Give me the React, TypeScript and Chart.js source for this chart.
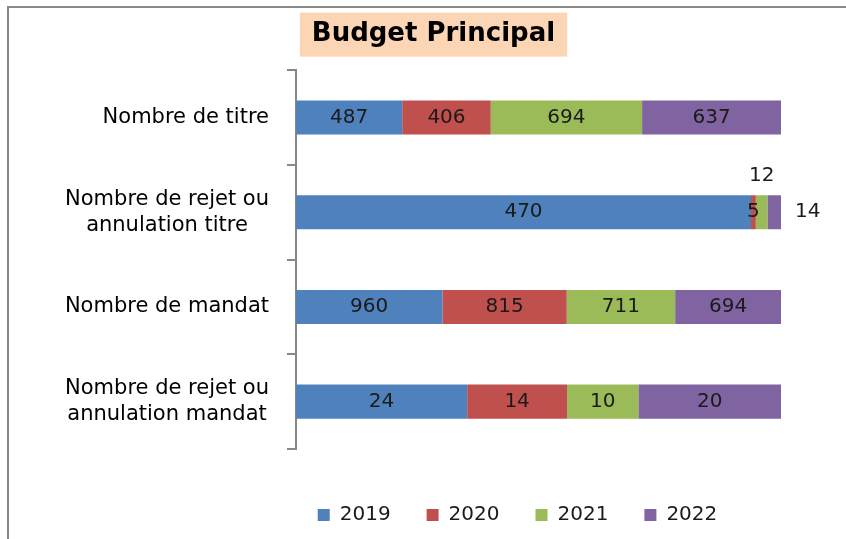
import React, { useEffect, useRef } from "react";
import { Chart, registerables } from "chart.js";

Chart.register(...registerables);

const TITLE = "Budget Principal";
const categories: string[][] = [
  ["Nombre de titre"],
  ["Nombre de rejet ou", "annulation titre"],
  ["Nombre de mandat"],
  ["Nombre de rejet ou", "annulation mandat"],
];
const years = ["2019", "2020", "2021", "2022"];
const values2019 = [487, 470, 960, 24];
const values2020 = [406, 5, 815, 14];
const values2021 = [694, 12, 711, 10];
const values2022 = [637, 14, 694, 20];
const seriesValues = [values2019, values2020, values2021, values2022];
const colors = ["#4F81BD", "#C0504D", "#9BBB59", "#8064A2"];
// label placement per [series][category]: c = centre, above, right
const labelPlacement = [
  ["c", "c", "c", "c"],
  ["c", "c", "c", "c"],
  ["c", "above", "c", "c"],
  ["c", "right", "c", "c"],
];

const FONT = "'DejaVu Sans', sans-serif";
const TITLE_SIZE = 26;
const TITLE_PAD_TOP = 19;
const LABEL_SIZE = 20;
const CAT_SIZE = 21;
const LEGEND_OFFSET = -21;

const totals = categories.map((_, i) =>
  seriesValues.reduce((s, arr) => s + arr[i], 0)
);

const customPlugin = {
  id: "customDraw",
  afterLayout(chart: any) {
    const lg = chart.legend;
    const ca = chart.chartArea;
    if (!lg || !ca) return;
    const desired = (ca.left + ca.right) / 2 + LEGEND_OFFSET;
    const shift = desired - (lg.left + lg.right) / 2;
    lg.left += shift;
    lg.right += shift;
  },
  beforeDraw(chart: any) {
    const tb = chart.titleBlock;
    if (!tb) return;
    const ctx = chart.ctx;
    ctx.save();
    ctx.font = `bold ${TITLE_SIZE}px ${FONT}`;
    const w = ctx.measureText(TITLE).width;
    const cx = (tb.left + tb.right) / 2;
    const cy = tb.top + TITLE_PAD_TOP + (TITLE_SIZE * 1.2) / 2;
    ctx.fillStyle = "#FCD5B5";
    ctx.fillRect(cx - w / 2 - 12, cy - 22, w + 24, 44);
    ctx.restore();
  },
  afterDatasetsDraw(chart: any) {
    const ctx = chart.ctx;
    ctx.save();
    ctx.font = `${LABEL_SIZE}px ${FONT}`;
    ctx.fillStyle = "#1a1a1a";
    ctx.textBaseline = "middle";
    seriesValues.forEach((vals, d) => {
      const meta = chart.getDatasetMeta(d);
      meta.data.forEach((el: any, i: number) => {
        const { x, y, base, height } = el.getProps(["x", "y", "base", "height"], true);
        const pos = labelPlacement[d][i];
        const text = String(vals[i]);
        if (pos === "above") {
          ctx.textAlign = "center";
          ctx.fillText(text, (x + base) / 2, y - height / 2 - 19);
        } else if (pos === "right") {
          ctx.textAlign = "left";
          ctx.fillText(text, x + 14, y);
        } else {
          ctx.textAlign = "center";
          ctx.fillText(text, (x + base) / 2, y);
        }
      });
    });
    ctx.restore();
  },
  afterDraw(chart: any) {
    const ctx = chart.ctx;
    const ys = chart.scales.y;
    const right = chart.chartArea.left - 27;
    ctx.save();
    ctx.font = `${CAT_SIZE}px ${FONT}`;
    ctx.fillStyle = "#000";
    ctx.textBaseline = "middle";
    ctx.textAlign = "center";
    categories.forEach((lines, i) => {
      const yc = ys.getPixelForValue(i);
      const maxW = Math.max(...lines.map((l) => ctx.measureText(l).width));
      const cx = right - maxW / 2;
      const lh = 26;
      const y0 = yc - ((lines.length - 1) * lh) / 2;
      lines.forEach((l, k) => ctx.fillText(l, cx, y0 + k * lh));
    });
    ctx.restore();
  },
};

export default function App() {
  const ref = useRef<HTMLCanvasElement | null>(null);
  useEffect(() => {
    if (!ref.current) return;
    const chart = new Chart(ref.current, {
      type: "bar",
      data: {
        labels: categories,
        datasets: years.map((yr, d) => ({
          label: yr,
          data: seriesValues[d].map((v, i) => (v / totals[i]) * 100),
          backgroundColor: colors[d],
          borderWidth: 0,
          barPercentage: 0.36,
          categoryPercentage: 1,
        })),
      },
      options: {
        indexAxis: "y",
        animation: false,
        responsive: false,
        events: [],
        layout: { padding: { left: 86, right: 65, top: 0, bottom: 4 } },
        plugins: {
          title: {
            display: true,
            text: TITLE,
            color: "#000",
            font: { family: FONT, size: TITLE_SIZE, weight: "bold" },
            padding: { top: TITLE_PAD_TOP, bottom: 20 },
          },
          legend: {
            position: "bottom",
            labels: {
              boxWidth: 12,
              boxHeight: 12,
              padding: 36,
              color: "#1a1a1a",
              font: { family: FONT, size: LABEL_SIZE },
            },
          },
          tooltip: { enabled: false },
        },
        scales: {
          x: {
            stacked: true,
            min: 0,
            max: 100,
            display: true,
            grid: { display: false },
            border: { display: false },
            ticks: { display: false },
            afterFit(s: any) {
              s.height = 20;
            },
          },
          y: {
            stacked: true,
            grid: {
              display: true,
              drawOnChartArea: false,
              drawTicks: true,
              tickLength: 9,
              color: "#888",
              lineWidth: 2,
              offset: true,
            },
            border: { display: true, color: "#888", width: 2 },
            ticks: { display: false },
            afterFit(s: any) {
              s.width = 210;
            },
          },
        },
      } as any,
      plugins: [customPlugin as any],
    });
    return () => chart.destroy();
  }, []);

  return (
    <>
      <div style={{ position: "absolute", left: 0, top: 0, width: 846, height: 539 }}>
        <canvas ref={ref} width={846} height={539} style={{ width: 846, height: 539, display: "block" }} />
      </div>
      <div
        style={{
          position: "absolute",
          left: 7,
          top: 6,
          width: 839,
          height: 533,
          borderTop: "2px solid #888",
          borderLeft: "2px solid #888",
          boxSizing: "border-box",
          pointerEvents: "none",
        }}
      />
    </>
  );
}
